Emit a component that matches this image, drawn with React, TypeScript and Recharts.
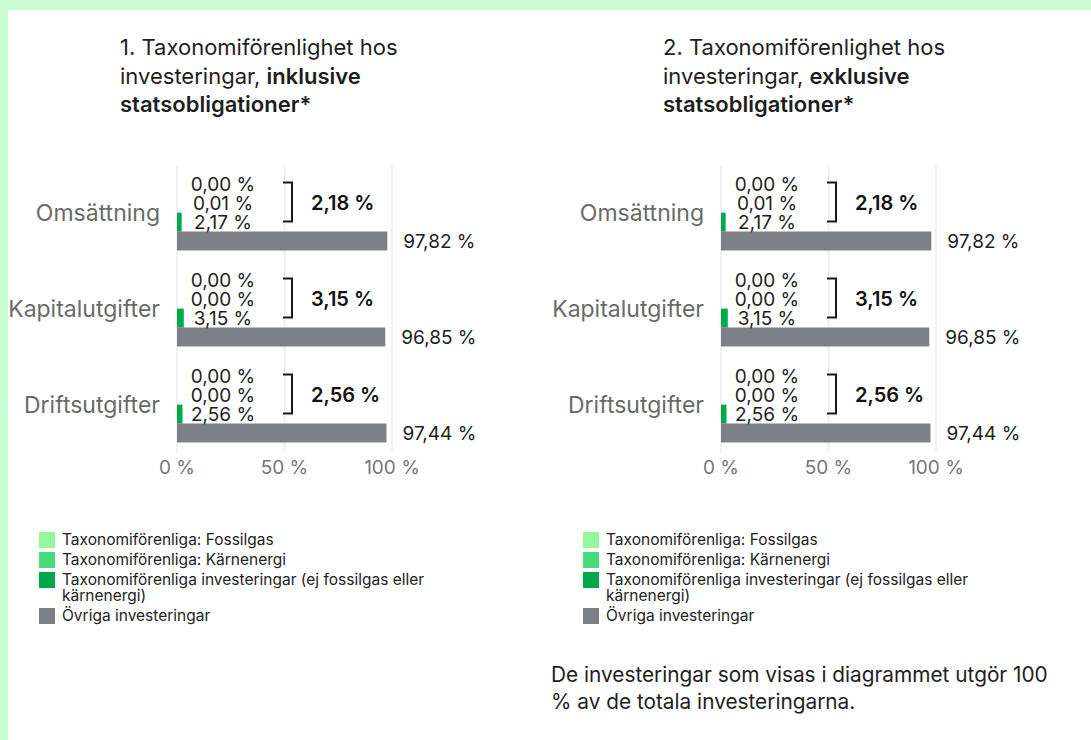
import React from 'react';
import { BarChart, Bar, XAxis, YAxis, CartesianGrid, LabelList } from 'recharts';

const categories = ['Omsättning', 'Kapitalutgifter', 'Driftsutgifter'];

// Chart 1: inklusive statsobligationer
const fossil1 = [0.0, 0.0, 0.0];
const nuclear1 = [0.01, 0.0, 0.0];
const aligned1 = [2.17, 3.15, 2.56];
const other1 = [97.82, 96.85, 97.44];
const totals1 = [2.18, 3.15, 2.56];

// Chart 2: exklusive statsobligationer
const fossil2 = [0.0, 0.0, 0.0];
const nuclear2 = [0.01, 0.0, 0.0];
const aligned2 = [2.17, 3.15, 2.56];
const other2 = [97.82, 96.85, 97.44];
const totals2 = [2.18, 3.15, 2.56];

const xTicks = [0, 50, 100];

const seriesNames = [
  'Taxonomiförenliga: Fossilgas',
  'Taxonomiförenliga: Kärnenergi',
  'Taxonomiförenliga investeringar (ej fossilgas eller kärnenergi)',
  'Övriga investeringar',
];
const seriesColors = ['#92f79d', '#47dc7b', '#00a84c', '#7d8084'];

const FONT = 'Inter, "Noto Sans", sans-serif';
const fmt = (v: number) => v.toFixed(2).replace('.', ',') + ' %';

function geom(props: any) {
  const vb = props.viewBox || {};
  const x = Number(props.x ?? vb.x ?? 0);
  const y = Number(props.y ?? vb.y ?? 0);
  const width = Number(props.width ?? vb.width ?? 0);
  const height = Number(props.height ?? vb.height ?? 0);
  return { x, y, width, height };
}

const outerLabel = (props: any) => {
  const { x, y, width, height } = geom(props);
  return (
    <text x={x + width + 16} y={y + height / 2} textAnchor="start" dominantBaseline="central"
      fontSize={19} fill="#1e1e1e" fontFamily={FONT}>
      {fmt(Number(props.value))}
    </text>
  );
};

// Labels for the three green bars plus the bracket with the total, placed
// relative to the (always non-zero) aligned bar of each category.
const makeGreenLabels = (fossil: number[], nuclear: number[], aligned: number[], totals: number[]) => (props: any) => {
  const { x, y, height } = geom(props);
  const idx = Number(props.index ?? 0);
  const h = height;
  const rows = [
    { v: fossil[idx], cy: y - 1.5 * h },
    { v: nuclear[idx], cy: y - 0.5 * h },
    { v: aligned[idx], cy: y + 0.5 * h },
  ];
  const top = y - 1.5 * h - 1.5;
  const bottom = y + 0.5 * h - 0.5;
  return (
    <g>
      {rows.map((r, i) => (
        <text key={i} x={x + 46} y={r.cy} textAnchor="middle" dominantBaseline="central"
          fontSize={19} fill="#1e1e1e" fontFamily={FONT}>
          {fmt(r.v)}
        </text>
      ))}
      <path d={`M ${x + 106} ${top} H ${x + 115} V ${bottom} H ${x + 106}`} fill="none" stroke="#1a1a1a" strokeWidth={2} />
      <text x={x + 134} y={y - 0.5 * h} textAnchor="start" dominantBaseline="central"
        fontSize={20} fontWeight={600} fill="#111" fontFamily={FONT}>
        {fmt(totals[idx])}
      </text>
    </g>
  );
};

function TaxChart(p: { fossil: number[]; nuclear: number[]; aligned: number[]; other: number[]; totals: number[] }) {
  const data = categories.map((name, i) => ({
    name,
    fossil: p.fossil[i],
    nuclear: p.nuclear[i],
    aligned: p.aligned[i],
    other: p.other[i],
  }));
  return (
    <BarChart width={480} height={340} data={data} layout="vertical"
      margin={{ top: 15, right: 88, left: 0, bottom: 7 }}
      barCategoryGap="10%" barGap={0}>
      <CartesianGrid horizontal={false} vertical stroke="#ececec" strokeWidth={1.5} />
      <XAxis type="number" domain={[0, 100]} ticks={xTicks} axisLine={false} tickLine={false}
        tickFormatter={(v: number) => `${v} %`} height={30}
        tick={{ fontSize: 19, fill: '#777', fontFamily: FONT }} />
      <YAxis type="category" dataKey="name" width={177} axisLine={false} tickLine={false}
        tickSize={0} tickMargin={17}
        tick={{ fontSize: 23, fill: '#6a6a6a', fontFamily: FONT }} />
      <Bar dataKey="fossil" fill={seriesColors[0]} isAnimationActive={false} />
      <Bar dataKey="nuclear" fill={seriesColors[1]} isAnimationActive={false} />
      <Bar dataKey="aligned" fill={seriesColors[2]} isAnimationActive={false}>
        <LabelList dataKey="aligned" content={makeGreenLabels(p.fossil, p.nuclear, p.aligned, p.totals)} />
      </Bar>
      <Bar dataKey="other" fill={seriesColors[3]} isAnimationActive={false}>
        <LabelList dataKey="other" content={outerLabel} />
      </Bar>
    </BarChart>
  );
}

function LegendBox() {
  return (
    <div style={{ width: 400, fontFamily: FONT, fontSize: 15.5, lineHeight: '16px', color: '#222' }}>
      {seriesNames.map((n, i) => (
        <div key={n} style={{ display: 'flex', alignItems: 'flex-start', marginBottom: 4 }}>
          <div style={{ width: 16, height: 16, background: seriesColors[i], flex: '0 0 16px', marginRight: 7 }} />
          <div>{n}</div>
        </div>
      ))}
    </div>
  );
}

function Title(p: { num: string; kind: string }) {
  return (
    <div style={{ fontFamily: FONT, fontSize: 22, lineHeight: '28.5px', color: '#1e1e1e', whiteSpace: 'nowrap' }}>
      {p.num}. Taxonomiförenlighet hos<br />
      investeringar, <b style={{ fontWeight: 600 }}>{p.kind}</b><br />
      <b style={{ fontWeight: 600 }}>statsobligationer*</b>
    </div>
  );
}

export default function App() {
  return (
    <div style={{ position: 'absolute', left: 0, top: 0, width: 1091, height: 740, background: '#c9fbd2', overflow: 'hidden' }}>
      <div style={{ position: 'absolute', left: 8, top: 10, right: 0, bottom: 0, background: '#fff' }} />
      <div style={{ position: 'absolute', left: 120, top: 33 }}>
        <Title num="1" kind="inklusive" />
      </div>
      <div style={{ position: 'absolute', left: 663, top: 33 }}>
        <Title num="2" kind="exklusive" />
      </div>
      <div style={{ position: 'absolute', left: 0, top: 150 }}>
        <TaxChart fossil={fossil1} nuclear={nuclear1} aligned={aligned1} other={other1} totals={totals1} />
      </div>
      <div style={{ position: 'absolute', left: 544, top: 150 }}>
        <TaxChart fossil={fossil2} nuclear={nuclear2} aligned={aligned2} other={other2} totals={totals2} />
      </div>
      <div style={{ position: 'absolute', left: 39, top: 532 }}>
        <LegendBox />
      </div>
      <div style={{ position: 'absolute', left: 583, top: 532 }}>
        <LegendBox />
      </div>
      <div style={{ position: 'absolute', left: 551, top: 661, fontFamily: FONT, fontSize: 20.8, lineHeight: '27px', color: '#1e1e1e', whiteSpace: 'nowrap' }}>
        De investeringar som visas i diagrammet utgör 100<br />
        % av de totala investeringarna.
      </div>
    </div>
  );
}
